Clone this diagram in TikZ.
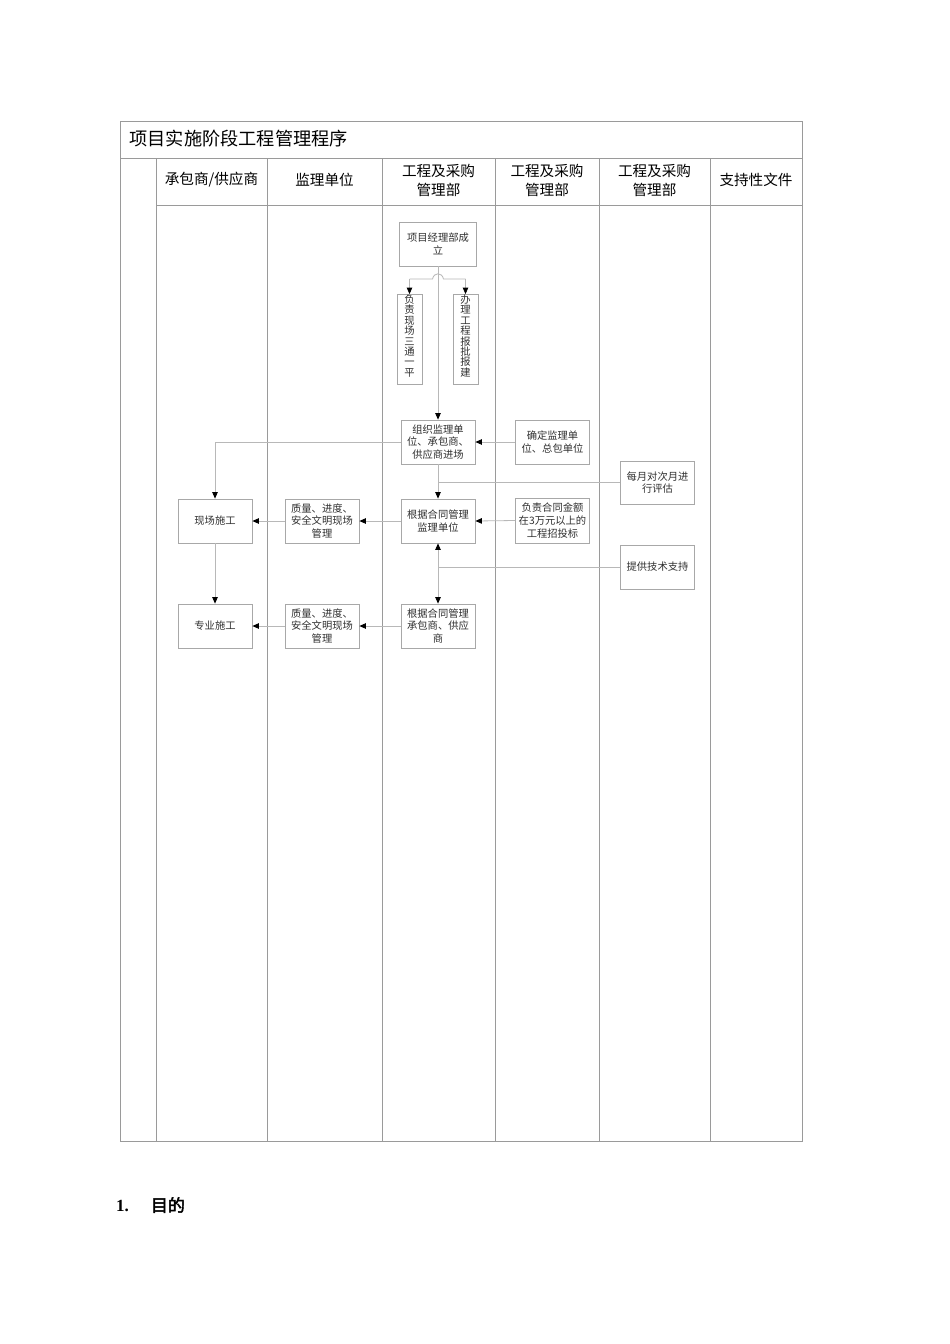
\documentclass[tikz,border=0pt]{standalone}
\usepackage{fontspec}
\setmainfont{Liberation Serif}
\newfontfamily\cjk[AutoFakeBold=2.5]{Noto Sans CJK SC}
\usetikzlibrary{arrows.meta}
\definecolor{gridc}{HTML}{9A9A9A}
\definecolor{boxc}{HTML}{A8A8A8}
\definecolor{linec}{HTML}{B8B8B8}
\definecolor{txtc}{HTML}{303030}
\begin{document}
\begin{tikzpicture}[x=1pt,y=-1pt,
  grid/.style={draw=gridc, line width=0.9pt},
  box/.style={draw=boxc, line width=0.8pt, minimum width=74pt, minimum height=44pt,
    inner sep=1pt, align=center, text=txtc, font=\cjk\fontsize{10.3}{12.8}\selectfont},
  vbox/.style={draw=boxc, line width=0.8pt, minimum width=25pt, minimum height=90pt, inner sep=0pt},
  vtext/.style={inner sep=0pt, align=center, text=txtc, font=\cjk\fontsize{10.3}{10.4}\selectfont},
  head/.style={align=center, text=black, font=\cjk\fontsize{14.6}{19}\selectfont},
  conn/.style={draw=linec, line width=0.8pt},
  arr/.style={conn, -{Triangle[length=6.5pt,width=5.5pt,color=black]}},
  darr/.style={conn, {Triangle[length=6.5pt,width=5.5pt,color=black]}-{Triangle[length=6.5pt,width=5.5pt,color=black]}}
]
\fill[white] (0,0) rectangle (950,1344);
\useasboundingbox (0,0) rectangle (950,1344);

% table frame
\draw[grid] (120,121) rectangle (802,1141);
\draw[grid] (120,158) -- (802,158);
\draw[grid] (156,205) -- (802,205);
\foreach \cx in {156,267,382,495,599,710} \draw[grid] (\cx,158) -- (\cx,1141);

% title and headers
\node[anchor=west, text=black, font=\cjk\fontsize{18.2}{20}\selectfont] (title) at (126,139) {项目实施阶段工程管理程序};
\node[head] (h1) at (211.5,180) {承包商/供应商};
\node[head] (h2) at (324.5,180) {监理单位};
\node[head] (h3) at (438.5,180) {工程及采购\\管理部};
\node[head] (h4) at (547,180) {工程及采购\\管理部};
\node[head] (h5) at (654.5,180) {工程及采购\\管理部};
\node[head] (h6) at (756,180) {支持性文件};

% boxes
\node[box, minimum width=77pt] (pm) at (438,244) {项目经理部成\\立};
\node[vbox] (v1) at (409.5,339.5) {};
\node[vtext, anchor=north] (v1t) at ([yshift=-0.5pt]v1.north) {负\\责\\现\\场\\三\\通\\一\\平};
\node[vbox] (v2) at (465.5,339.5) {};
\node[vtext, anchor=north] (v2t) at ([yshift=-0.5pt]v2.north) {办\\理\\工\\程\\报\\批\\报\\建};
\node[box] (org) at (438,442) {组织监理单\\位、承包商、\\供应商进场};
\node[box] (det) at (552.5,442) {确定监理单\\位、总包单位};
\node[box, minimum height=43pt] (eval) at (657.5,482.5) {每月对次月进\\行评估};
\node[box] (site) at (215,521) {现场施工};
\node[box] (q1) at (322,521) {质量、进度、\\安全文明现场\\管理};
\node[box] (mgr1) at (438,521) {根据合同管理\\监理单位};
\node[box, minimum height=45pt] (bid) at (552.5,520.5) {负责合同金额\\在3万元以上的\\工程招投标};
\node[box] (tech) at (657.5,567) {提供技术支持};
\node[box] (spec) at (215,626) {专业施工};
\node[box] (q2) at (322,626) {质量、进度、\\安全文明现场\\管理};
\node[box] (mgr2) at (438,626) {根据合同管理\\承包商、供应\\商};

% connectors
\coordinate (hopy) at (0,279);
\draw[arr] (pm.south) -- (org.north);
\draw[conn] (v1.north |- hopy) -- (432.5,279) .. controls (434,272) and (442,272) .. (443.5,279) -- (v2.north |- hopy);
\draw[arr] (v1.north |- hopy) -- (v1.north);
\draw[arr] (v2.north |- hopy) -- (v2.north);
\draw[arr] (det.west) -- (org.east);
\draw[arr] (org.west) -| (site.north);
\draw[arr] (org.south) -- (mgr1.north);
\draw[conn] (eval.west) -- (org.south |- eval.west);
\draw[arr] (bid.west) -- (mgr1.east);
\draw[arr] (mgr1.west) -- (q1.east);
\draw[arr] (q1.west) -- (site.east);
\draw[arr] (site.south) -- (spec.north);
\draw[darr] (mgr1.south) -- (mgr2.north);
\draw[conn] (tech.west) -- (mgr1.south |- tech.west);
\draw[arr] (mgr2.west) -- (q2.east);
\draw[arr] (q2.west) -- (spec.east);

% section heading below
\node[anchor=west, inner sep=0pt, font=\bfseries\fontsize{17}{20}\selectfont] (sec) at (116,1205) {1.\hspace{22pt}{\cjk\bfseries 目的}};
\end{tikzpicture}
\end{document}
